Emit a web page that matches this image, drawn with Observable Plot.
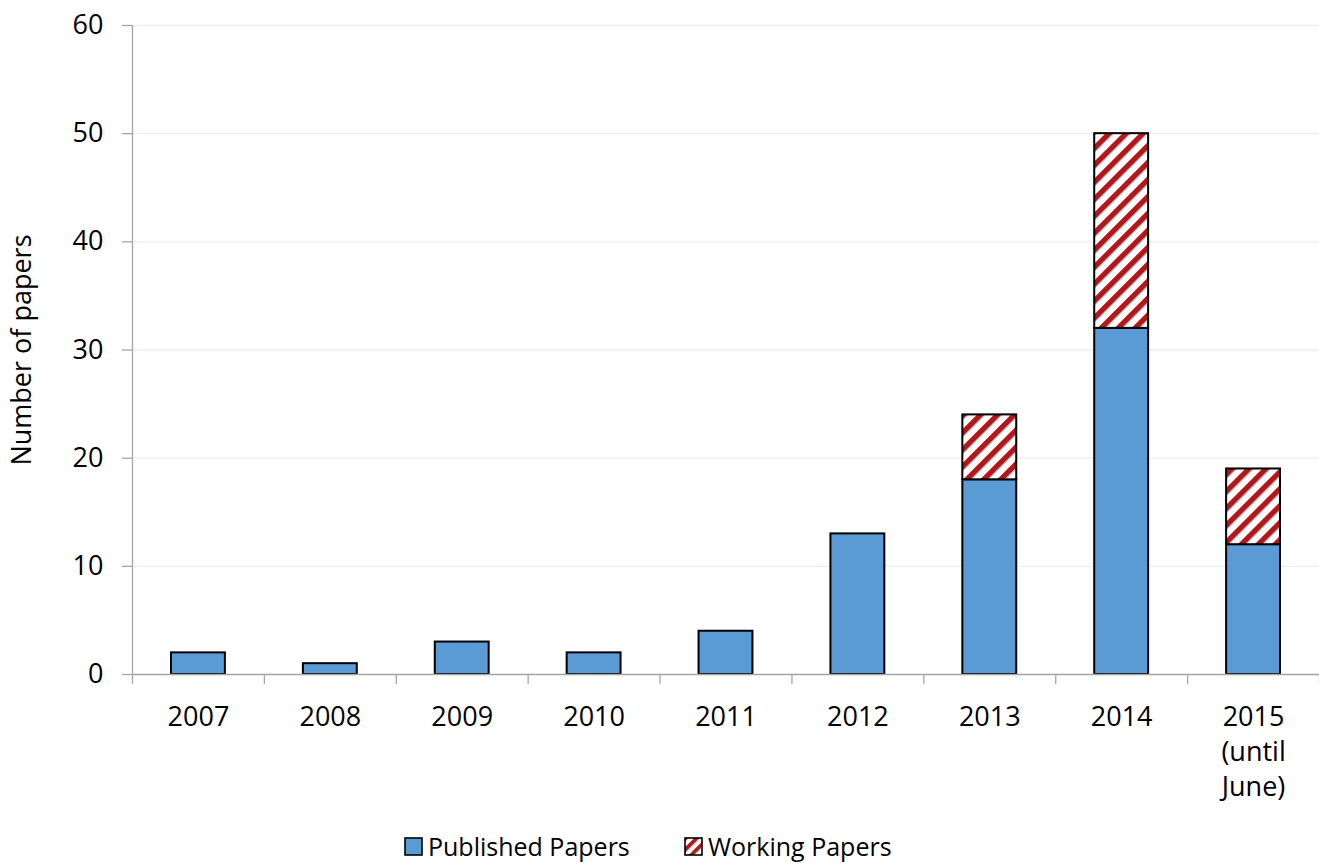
<!DOCTYPE html>
<html>
<head>
<meta charset="utf-8">
<script src="https://cdn.jsdelivr.net/npm/d3@7"></script>
<script src="https://cdn.jsdelivr.net/npm/@observablehq/plot@0.6"></script>
<style>
  body { margin: 0; background: #fff; font-family: "Open Sans", sans-serif; }
  #wrap { position: relative; width: 1319px; }
  #legend { position: relative; height: 43px; font-size: 25px; color: #000; }
  .item { position: absolute; top: 14px; display: flex; align-items: center; gap: 5px; line-height: 1; }
  .item svg { display: block; }
</style>
</head>
<body>
<div id="wrap">
  <div id="chart"></div>
  <div id="legend"></div>
</div>
<script>
const years = ["2007", "2008", "2009", "2010", "2011", "2012", "2013", "2014", "2015"];
const yearLabels = ["2007", "2008", "2009", "2010", "2011", "2012", "2013", "2014", "2015\n(until\nJune)"];
const published = [2, 1, 3, 2, 4, 13, 18, 32, 12];
const working = [0, 0, 0, 0, 0, 0, 6, 18, 7];
const yTicks = [0, 10, 20, 30, 40, 50, 60];
const seriesNames = ["Published Papers", "Working Papers"];

const BLUE = "#5B9BD5";
const RED = "#B0181B";
const FONT = "Open Sans";

const rows = [];
years.forEach((y, i) => {
  rows.push({i, year: y, series: seriesNames[0], y1: 0, y2: published[i]});
  if (working[i] > 0) rows.push({i, year: y, series: seriesNames[1], y1: published[i], y2: published[i] + working[i]});
});

const idx = years.map((_, i) => i);
const bounds = d3.range(years.length + 1);

const plot = Plot.plot({
  width: 1319,
  height: 820,
  marginTop: 25,
  marginBottom: 146,
  marginLeft: 132,
  marginRight: 0,
  style: { fontFamily: FONT, fontSize: "27px", color: "#000", background: "#fff" },
  x: { type: "linear", domain: [0, years.length] },
  y: { domain: [0, 60] },
  marks: [
    Plot.gridY(yTicks, { stroke: "#E8EEF7", strokeOpacity: 1, strokeWidth: 1.3 }),
    Plot.rect(rows, {
      x1: d => d.i, x2: d => d.i + 1, y1: "y1", y2: "y2",
      insetLeft: 39, insetRight: 39,
      fill: d => d.series === seriesNames[0] ? BLUE : "url(#hatch)",
      stroke: "#000", strokeWidth: 2
    }),
    Plot.ruleY([0], { stroke: "#A6A6A6", strokeWidth: 1.3 }),
    Plot.ruleX([0], { stroke: "#A6A6A6", strokeWidth: 1.3 }),
    Plot.axisY(yTicks, { tickSize: 10, tickPadding: 19, stroke: "#A6A6A6", strokeWidth: 1.3, label: null, fontSize: 27 }),
    Plot.axisX(bounds, { tickSize: 10, tickFormat: () => "", stroke: "#A6A6A6", strokeWidth: 1.3, label: null }),
    Plot.axisX(idx.map(i => i + 0.5), { tickSize: 0, tickPadding: 27, tickFormat: (d) => yearLabels[Math.floor(d)], lineHeight: 1.29, label: null, fontSize: 27 }),
    Plot.text(["Number of papers"], { frameAnchor: "left", rotate: -90, dx: -110, fontSize: 27, fill: "#000", textAnchor: "middle" })
  ]
});

// hatch pattern defs
const ns = "http://www.w3.org/2000/svg";
function addPattern(svg, id) {
  const defs = document.createElementNS(ns, "defs");
  defs.innerHTML = `<pattern id="${id}" patternUnits="userSpaceOnUse" width="12" height="12" patternTransform="rotate(45)">
      <rect x="0" y="0" width="12" height="12" fill="#fff"/>
      <rect x="0" y="0" width="5.5" height="12" fill="${RED}"/>
    </pattern>`;
  svg.insertBefore(defs, svg.firstChild);
}
addPattern(plot, "hatch");
document.getElementById("chart").appendChild(plot);

// legend
const legend = d3.select("#legend");
const items = [
  { name: seriesNames[0], left: 404, fill: BLUE },
  { name: seriesNames[1], left: 684, fill: "url(#hatchL)" }
];
items.forEach(it => {
  const div = legend.append("div").attr("class", "item").style("left", it.left + "px");
  const s = div.append("svg").attr("width", 19).attr("height", 19);
  if (it.fill.startsWith("url")) {
    s.append("defs").html(`<pattern id="hatchL" patternUnits="userSpaceOnUse" width="8" height="8" patternTransform="rotate(45)">
      <rect x="0" y="0" width="8" height="8" fill="#fff"/>
      <rect x="0" y="0" width="3.8" height="8" fill="${RED}"/></pattern>`);
  }
  s.append("rect").attr("x", 1).attr("y", 1).attr("width", 17).attr("height", 17)
    .attr("fill", it.fill).attr("stroke", "#000").attr("stroke-width", 1.6);
  div.append("span").text(it.name);
});
</script>
</body>
</html>
